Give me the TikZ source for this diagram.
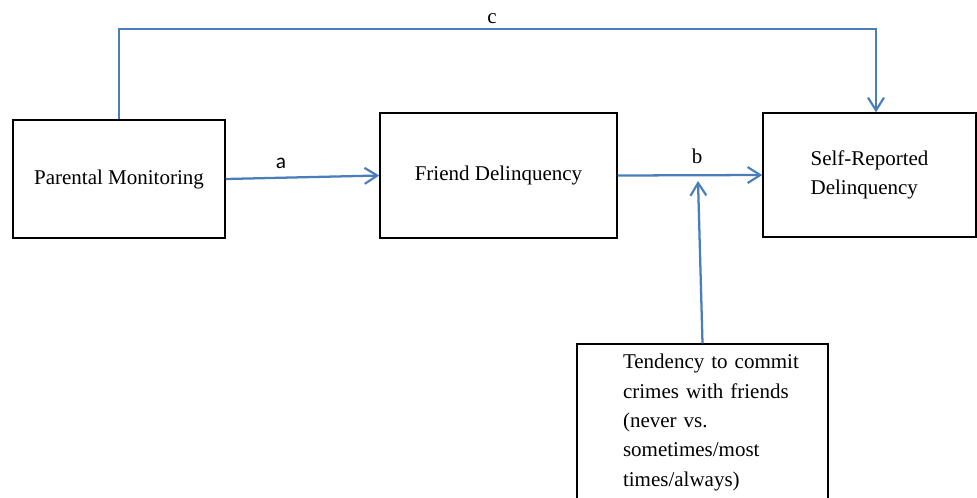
\documentclass[tikz,border=0pt]{standalone}
\usepackage{fontspec}
\setmainfont{Liberation Serif}
\newfontfamily\labelfont{Carlito}
\usepackage{tikz}
\usetikzlibrary{arrows.meta, positioning}

\definecolor{linkblue}{RGB}{74,126,187}
\newcommand{\tindent}{\hspace*{15.4pt}}

\begin{document}
\begin{tikzpicture}[
    x=0.75pt, y=-0.75pt,
    box/.style={draw=black, line width=1.1pt, minimum width=159pt, minimum height=88.5pt, align=center, font=\fontsize{15.75}{22}\selectfont},
    arrow/.style={-{Straight Barb[length=9.5pt, width=12pt, line width=1.6pt]}, line width=1.7pt, draw=linkblue},
    pathlabel/.style={anchor=base, inner sep=0pt, font=\fontsize{15.75}{22}\selectfont}
]
\useasboundingbox (0,0) rectangle (977,497);

\node[box] (parental) at (119,179) {Parental Monitoring};
\node[box, minimum width=177.75pt, minimum height=93.75pt] (friend) at (498.5,175.5) {Friend Delinquency};
\node[box, minimum width=159.75pt, minimum height=93pt, align=left] (self) at (869.5,175) {Self-Reported\\Delinquency};
\node[box, minimum width=188.25pt, minimum height=117.75pt, text width=150pt, align=left] (tendency) at (702.5,422.5) {\tindent Tendency to commit\\\tindent crimes with friends\\\tindent (never vs.\\\tindent sometimes/most\\\tindent times/always)};

\coordinate (bmid) at (698,181);
\coordinate (ctop) at (876,29);

\draw[arrow] (parental.east) -- (friend.west);
\draw[arrow] (friend.east) -- (self.west);
\draw[arrow] (tendency.north) -- (bmid);
\draw[arrow] (parental.north) |- (ctop) -- (ctop |- self.north);

\node[pathlabel, font=\labelfont\fontsize{16}{20}\selectfont] (alabel) at (281,168) {a};
\node[pathlabel] (blabel) at (697,163) {b};
\node[pathlabel] (clabel) at (492,23) {c};
\end{tikzpicture}
\end{document}
